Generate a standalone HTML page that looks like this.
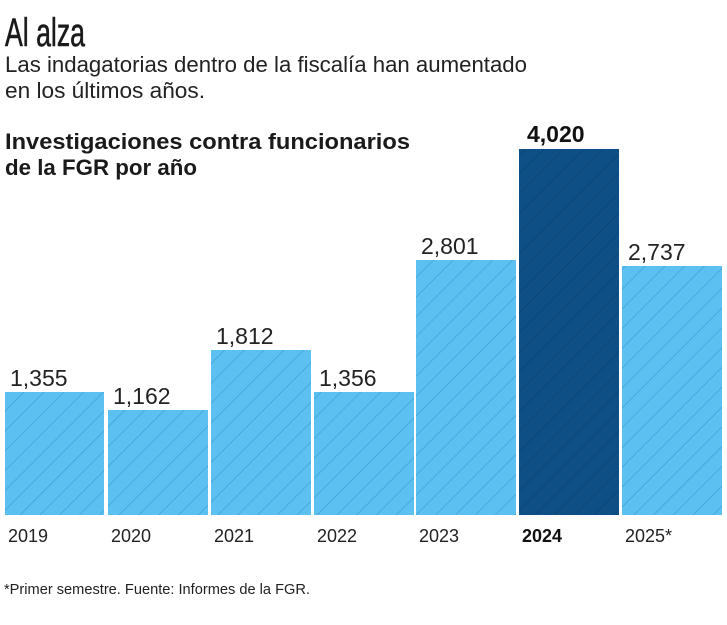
<!DOCTYPE html>
<html><head><meta charset="utf-8"><style>
html,body{margin:0;padding:0;background:#fff;}
body{width:727px;height:620px;overflow:hidden;}
</style></head><body>
<svg width="727" height="620" xmlns="http://www.w3.org/2000/svg" font-family="Liberation Sans, sans-serif">
<defs>
<pattern id="h" patternUnits="userSpaceOnUse" width="14" height="14" patternTransform="rotate(45)">
<rect width="14" height="14" fill="#5cc0f0"/><line x1="0" y1="0" x2="0" y2="14" stroke="#3a9bd0" stroke-width="1.2"/>
</pattern>
<pattern id="d" patternUnits="userSpaceOnUse" width="14" height="14" patternTransform="rotate(45)">
<rect width="14" height="14" fill="#0e4f86"/><line x1="0" y1="0" x2="0" y2="14" stroke="#0a416f" stroke-width="1.2"/>
</pattern>
</defs>
<text x="5" y="46" font-size="40" fill="#1a1a1a" textLength="80" lengthAdjust="spacingAndGlyphs" stroke="#1a1a1a" stroke-width="0.6">Al alza</text>
<text x="5" y="72" font-size="22" fill="#222" textLength="522" lengthAdjust="spacingAndGlyphs">Las indagatorias dentro de la fiscalía han aumentado</text>
<text x="5" y="98" font-size="22" fill="#222" textLength="200" lengthAdjust="spacingAndGlyphs">en los últimos años.</text>
<text x="5" y="149" font-size="22" font-weight="bold" fill="#1a1a1a" textLength="405" lengthAdjust="spacingAndGlyphs">Investigaciones contra funcionarios</text>
<text x="5" y="175" font-size="22" font-weight="bold" fill="#1a1a1a" textLength="192" lengthAdjust="spacingAndGlyphs">de la FGR por año</text>
<g>
<rect x="5" y="392" width="99" height="123" fill="url(#h)"/>
<rect x="108" y="410" width="100" height="105" fill="url(#h)"/>
<rect x="211" y="350" width="100" height="165" fill="url(#h)"/>
<rect x="314" y="392" width="100" height="123" fill="url(#h)"/>
<rect x="416" y="260" width="100" height="255" fill="url(#h)"/>
<rect x="519" y="149" width="100" height="366" fill="url(#d)"/>
<rect x="622" y="266" width="100" height="249" fill="url(#h)"/>
</g>
<g font-size="23" fill="#222">
<text x="10" y="386">1,355</text>
<text x="113" y="404">1,162</text>
<text x="216" y="344">1,812</text>
<text x="319" y="386">1,356</text>
<text x="421" y="254">2,801</text>
<text x="527" y="142" font-weight="bold" fill="#111">4,020</text>
<text x="628" y="260">2,737</text>
</g>
<g font-size="18" fill="#222">
<text x="8" y="542">2019</text>
<text x="111" y="542">2020</text>
<text x="214" y="542">2021</text>
<text x="317" y="542">2022</text>
<text x="419" y="542">2023</text>
<text x="522" y="542" font-weight="bold" fill="#111">2024</text>
<text x="625" y="542">2025*</text>
</g>
<text x="4" y="594" font-size="15" fill="#222" textLength="306" lengthAdjust="spacingAndGlyphs">*Primer semestre. Fuente: Informes de la FGR.</text>
</svg>
</body></html>
